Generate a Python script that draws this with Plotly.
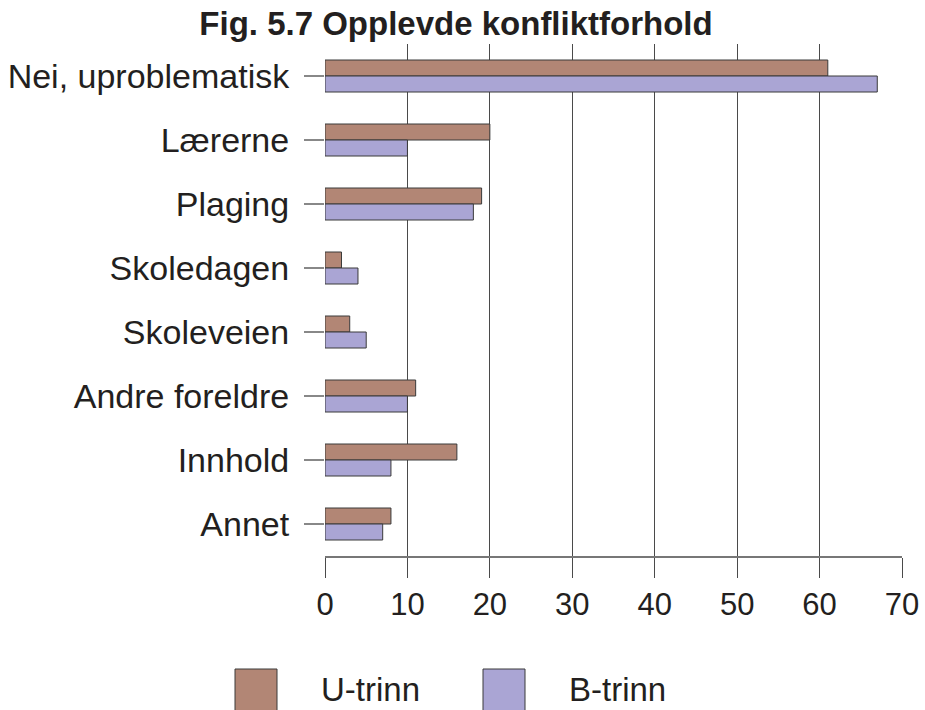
import plotly.graph_objects as go

categories = ["Nei, uproblematisk", "Lærerne", "Plaging", "Skoledagen",
              "Skoleveien", "Andre foreldre", "Innhold", "Annet"]
u_trinn = [61, 20, 19, 2, 3, 11, 16, 8]
b_trinn = [67, 10, 18, 4, 5, 10, 8, 7]
series_names = ["U-trinn", "B-trinn"]
x_ticks = [0, 10, 20, 30, 40, 50, 60, 70]

colors = ["#b28675", "#aaa5d4"]
font = "Liberation Sans, Arial, sans-serif"

W, H = 925, 710
L, T, PW, PH = 325, 44, 577, 512

fig = go.Figure()
for name, vals, col in zip(series_names, [u_trinn, b_trinn], colors):
    fig.add_trace(go.Bar(
        y=categories, x=vals, name=name, orientation="h",
        marker=dict(color=col, line=dict(color="#3a3a3a", width=1)),
        showlegend=False,
    ))

fig.update_layout(
    width=W, height=H,
    margin=dict(l=L, r=W - L - PW, t=T, b=H - T - PH),
    paper_bgcolor="white", plot_bgcolor="white",
    barmode="group", bargap=0.5, bargroupgap=0,
    title=dict(text="<b>Fig. 5.7 Opplevde konfliktforhold</b>",
               x=456 / W, xanchor="center", y=1 - 23 / H, yanchor="middle",
               font=dict(family=font, size=33, color="#231f20")),
    font=dict(family=font, color="#231f20"),
)
fig.update_xaxes(
    range=[0, 70], tickvals=x_ticks, showgrid=True, gridcolor="#4a4a4a", gridwidth=1,
    showline=True, linecolor="#777777", linewidth=2,
    ticks="outside", ticklen=20, tickcolor="#4a4a4a", tickwidth=1,
    tickfont=dict(size=31), zeroline=False, automargin=False,
)
fig.update_yaxes(
    autorange="reversed", showgrid=False, showline=False,
    ticks="outside", ticklen=20, tickcolor="#888888", tickwidth=2,
    tickfont=dict(size=34), ticklabelstandoff=8, automargin=False,
)

# legend drawn below the plot
legend_x = [235, 483]
for name, col, x0 in zip(series_names, colors, legend_x):
    fig.add_shape(type="rect", xref="paper", yref="paper",
                  x0=(x0 - L) / PW, x1=(x0 + 42 - L) / PW,
                  y0=-(712 - (T + PH)) / PH, y1=-(669 - (T + PH)) / PH,
                  fillcolor=col, line=dict(color="#3a3a3a", width=1))
    fig.add_annotation(text=name, xref="paper", yref="paper",
                       x=(x0 + 84 - L) / PW, y=-(689 - (T + PH)) / PH,
                       xanchor="left", yanchor="middle", showarrow=False,
                       font=dict(size=33, color="#231f20"))

fig.write_html("out.html", config={"displayModeBar": False},
               post_script="document.body.style.margin='0';document.body.style.overflow='hidden';")
